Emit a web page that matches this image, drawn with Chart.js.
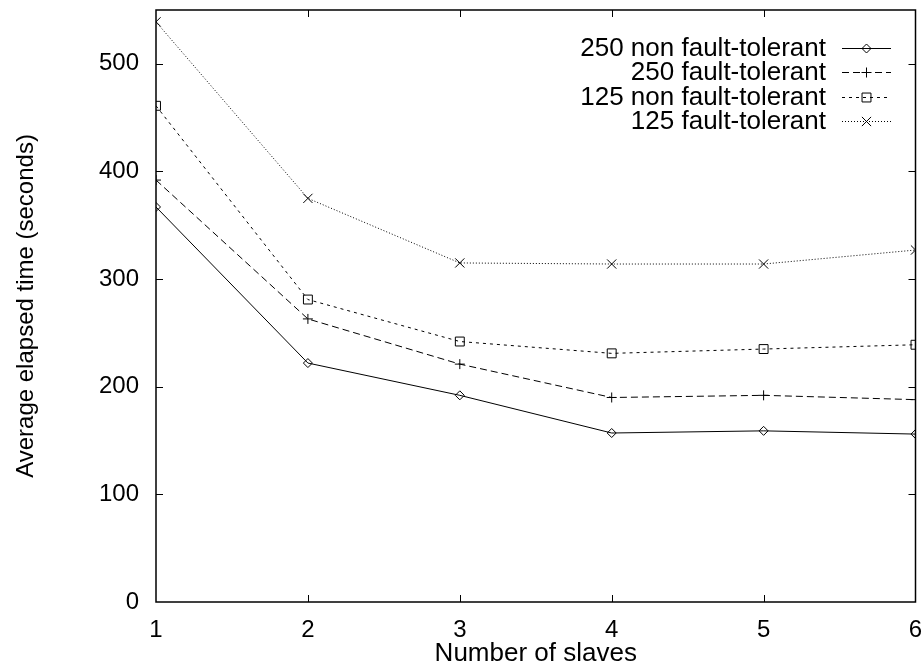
<!DOCTYPE html>
<html>
<head>
<meta charset="utf-8">
<script src="https://cdn.jsdelivr.net/npm/chart.js@4/dist/chart.umd.min.js"></script>
<style>
html,body{margin:0;padding:0;background:#fff;}
#wrap{width:923px;height:669px;}
</style>
</head>
<body>
<div id="wrap"><canvas id="c" width="923" height="669"></canvas></div>
<script>
// ---- data ----
const slaves = [1, 2, 3, 4, 5, 6];
const seriesLabels = ["250 non fault-tolerant", "250 fault-tolerant", "125 non fault-tolerant", "125 fault-tolerant"];
const nonFT250 = [367, 222, 192, 157, 159, 156];
const ft250 = [392, 263, 221, 190, 192, 188];
const nonFT125 = [461, 281, 242, 231, 235, 239];
const ft125 = [539, 375, 315, 314, 314, 327];
const yTickValues = [0, 100, 200, 300, 400, 500];
const xTickValues = [1, 2, 3, 4, 5, 6];
const xTitle = "Number of slaves";
const yTitle = "Average elapsed time (seconds)";

const FONT = "'Liberation Sans', Arial, Helvetica, sans-serif";
const toPts = arr => slaves.map((x, i) => ({x: x, y: arr[i]}));

const styles = [
  {dash: [], pointStyle: 'rectRot', radius: 4.5},
  {dash: [7, 4], pointStyle: 'cross', radius: 5},
  {dash: [3, 4], pointStyle: 'rect', radius: 6.3},
  {dash: [1, 2], pointStyle: 'crossRot', radius: 6.5}
];
const values = [nonFT250, ft250, nonFT125, ft125];

const datasets = values.map((v, i) => ({
  label: seriesLabels[i],
  data: toPts(v),
  borderColor: '#000',
  borderWidth: 1,
  borderDash: styles[i].dash,
  pointStyle: styles[i].pointStyle,
  pointRadius: styles[i].radius,
  pointHoverRadius: styles[i].radius,
  pointBorderColor: '#000',
  pointBackgroundColor: 'rgba(0,0,0,0)',
  pointBorderWidth: 1,
  fill: false,
  tension: 0
}));

const zeroPad = s => { s.paddingTop = 0; s.paddingBottom = 0; s.paddingLeft = 0; s.paddingRight = 0; };

const framePlugin = {
  id: 'frame',
  afterDatasetsDraw(chart) {
    const {ctx, chartArea: a, scales} = chart;
    ctx.save();
    ctx.strokeStyle = '#000';
    ctx.lineWidth = 1.5;
    ctx.setLineDash([]);
    ctx.strokeRect(a.left, a.top, a.right - a.left, a.bottom - a.top);
    ctx.lineWidth = 1;
    const tl = 7;
    ctx.beginPath();
    yTickValues.forEach(v => {
      const y = Math.round(scales.y.getPixelForValue(v)) + 0.5;
      if (y > a.bottom - 1 || y < a.top + 1) return;
      ctx.moveTo(a.left, y); ctx.lineTo(a.left + tl, y);
      ctx.moveTo(a.right, y); ctx.lineTo(a.right - tl, y);
    });
    xTickValues.forEach(v => {
      const x = Math.round(scales.x.getPixelForValue(v)) + 0.5;
      if (x < a.left + 1 || x > a.right - 1) return;
      ctx.moveTo(x, a.bottom); ctx.lineTo(x, a.bottom - tl);
      ctx.moveTo(x, a.top); ctx.lineTo(x, a.top + tl);
    });
    ctx.stroke();

    // legend (gnuplot style: text right aligned, sample on the right)
    const textRight = 826, sx0 = 842, sx1 = 891, y0 = 48, dy = 24.3;
    ctx.font = '26px ' + FONT;
    ctx.fillStyle = '#000';
    ctx.textAlign = 'right';
    ctx.textBaseline = 'middle';
    chart.data.datasets.forEach((ds, i) => {
      const y = y0 + i * dy;
      ctx.fillStyle = '#000';
      ctx.fillText(ds.label, textRight, y + 1);
      ctx.save();
      ctx.lineWidth = 1;
      ctx.setLineDash(ds.borderDash);
      ctx.beginPath();
      ctx.moveTo(sx0, Math.round(y) + 0.5);
      ctx.lineTo(sx1, Math.round(y) + 0.5);
      ctx.stroke();
      ctx.setLineDash([]);
      ctx.fillStyle = 'rgba(0,0,0,0)';
      ctx.strokeStyle = '#000';
      Chart.helpers.drawPoint(ctx, {pointStyle: ds.pointStyle, radius: ds.pointRadius, borderWidth: 1}, (sx0 + sx1) / 2, Math.round(y) + 0.5);
      ctx.restore();
    });
    ctx.restore();
  }
};

new Chart(document.getElementById('c'), {
  type: 'line',
  data: {datasets: datasets},
  plugins: [framePlugin],
  options: {
    responsive: false,
    animation: false,
    events: [],
    layout: {padding: {top: 10, right: 7, left: 0, bottom: 0}},
    plugins: {legend: {display: false}, tooltip: {enabled: false}},
    scales: {
      x: {
        type: 'linear',
        min: 1, max: 6,
        afterBuildTicks: s => { s.ticks = xTickValues.map(v => ({value: v})); },
        afterFit: s => { s.height = 67; zeroPad(s); },
        grid: {display: false, drawTicks: false},
        border: {display: false},
        ticks: {color: '#000', font: {family: FONT, size: 24}, padding: 14, maxRotation: 0},
        title: {display: true, text: xTitle, color: '#000', font: {family: FONT, size: 26}, padding: {top: 0, bottom: 0}}
      },
      y: {
        type: 'linear',
        min: 0, max: 550,
        afterBuildTicks: s => { s.ticks = yTickValues.map(v => ({value: v})); },
        afterFit: s => { s.width = 156; zeroPad(s); },
        grid: {display: false, drawTicks: false},
        border: {display: false},
        ticks: {color: '#000', font: {family: FONT, size: 24}, padding: 17},
        title: {display: true, text: yTitle, color: '#000', font: {family: FONT, size: 24}, padding: {top: 12, bottom: 0}}
      }
    }
  }
});
</script>
</body>
</html>
